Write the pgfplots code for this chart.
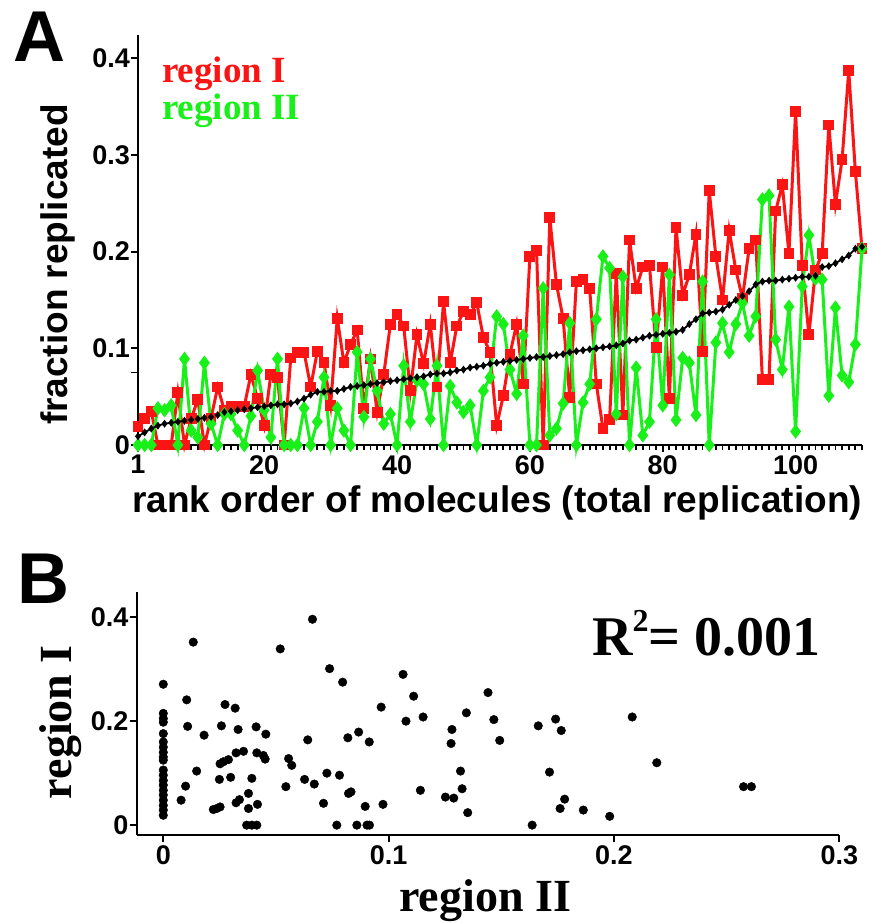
\documentclass[border=0pt]{standalone}
\usepackage{fontspec}
\setmainfont{Liberation Serif}
\setsansfont{Liberation Sans}
\usepackage{pgfplots}
\usepackage{pgfplotstable}
\pgfplotsset{compat=1.18}

\definecolor{regred}{RGB}{250,20,20}
\definecolor{reggreen}{RGB}{25,240,25}

% panel A: fraction replicated per molecule, ranked by total replication
\pgfplotstableread{
n   red    green  total
1   0.019  0      0.009
2   0.027  0      0.013
3   0.035  0      0.017
4   0      0.038  0.020
5   0      0.036  0.022
6   0      0.041  0.023
7   0.054  0      0.024
8   0      0.089  0.025
9   0.027  0.015  0.026
10  0.047  0.008  0.027
11  0      0.085  0.028
12  0.028  0.022  0.029
13  0.060  0      0.031
14  0.036  0.032  0.034
15  0.040  0.032  0.035
16  0.040  0.015  0.036
17  0.040  0      0.037
18  0.073  0.030  0.038
19  0.048  0.077  0.039
20  0.020  0.036  0.040
21  0.073  0.008  0.041
22  0.070  0.089  0.042
23  0      0      0.042
24  0.090  0      0.043
25  0.096  0      0.045
26  0.096  0.038  0.048
27  0.060  0      0.052
28  0.097  0.024  0.055
29  0.085  0.070  0.055
30  0.041  0      0.056
31  0.131  0.038  0.056
32  0.085  0.015  0.058
33  0.104  0      0.060
34  0.119  0.096  0.061
35  0.038  0.029  0.062
36  0.089  0.089  0.063
37  0.034  0.056  0.064
38  0.073  0.022  0.065
39  0.125  0.032  0.066
40  0.135  0      0.067
41  0.123  0.082  0.068
42  0.056  0.024  0.069
43  0.114  0.067  0.070
44  0.084  0.063  0.071
45  0.125  0.027  0.073
46  0.060  0.082  0.074
47  0.148  0      0.074
48  0.085  0.061  0.075
49  0.123  0.044  0.077
50  0.138  0.034  0.078
51  0.135  0.041  0.080
52  0.147  0      0.081
53  0.111  0.056  0.082
54  0.096  0.070  0.084
55  0.020  0.133  0.085
56  0.051  0.125  0.086
57  0.094  0.078  0.087
58  0.125  0.053  0.088
59  0.063  0.113  0.089
60  0.195  0      0.090
61  0.201  0      0.091
62  0      0.162  0.091
63  0.235  0.010  0.092
64  0.166  0.017  0.093
65  0.131  0.043  0.094
66  0.049  0.126  0.096
67  0.169  0      0.097
68  0.171  0.044  0.098
69  0.162  0.063  0.099
70  0.063  0.130  0.100
71  0.017  0.195  0.101
72  0.026  0.183  0.102
73  0.177  0.032  0.103
74  0.031  0.174  0.105
75  0.212  0      0.108
76  0.162  0.080  0.109
77  0.184  0.010  0.111
78  0.186  0.024  0.113
79  0.101  0.130  0.114
80  0.184  0.041  0.115
81  0.048  0.176  0.116
82  0.225  0.026  0.117
83  0.155  0.090  0.119
84  0.176  0.085  0.125
85  0.218  0.031  0.130
86  0.097  0.169  0.136
87  0.263  0      0.137
88  0.195  0.106  0.138
89  0.150  0.126  0.140
90  0.222  0.096  0.145
91  0.181  0.125  0.150
92  0.152  0.147  0.154
93  0.203  0.113  0.159
94  0.212  0.133  0.166
95  0.068  0.254  0.169
96  0.068  0.258  0.170
97  0.242  0.109  0.170
98  0.269  0.078  0.171
99  0.198  0.143  0.172
100 0.345  0.014  0.173
101 0.186  0.164  0.174
102 0.114  0.217  0.174
103 0.181  0.172  0.175
104 0.198  0.171  0.184
105 0.331  0.051  0.185
106 0.249  0.142  0.188
107 0.295  0.072  0.192
108 0.387  0.065  0.196
109 0.283  0.104  0.203
110 0.203  0.203  0.205
}\rankdata

% panel B: region I against region II
\pgfplotstableread{
x       y
0       0.271
0       0.215
0       0.205
0       0.198
0       0.176
0       0.160
0       0.150
0       0.140
0       0.131
0       0.125
0       0.106
0       0.096
0       0.086
0       0.077
0       0.067
0       0.058
0       0.048
0       0.038
0       0.029
0       0.019
0.0133  0.352
0.0104  0.241
0.0108  0.190
0.0181  0.173
0.0148  0.104
0.0099  0.075
0.0079  0.048
0.0274  0.232
0.0319  0.225
0.0258  0.191
0.0332  0.184
0.0412  0.189
0.0455  0.175
0.0252  0.118
0.0267  0.122
0.0289  0.126
0.0323  0.139
0.0356  0.142
0.0415  0.139
0.0444  0.134
0.0452  0.127
0.0249  0.088
0.0299  0.092
0.0393  0.090
0.0378  0.061
0.0323  0.043
0.0338  0.049
0.0378  0.032
0.0418  0.040
0.0222  0.030
0.0237  0.032
0.0252  0.035
0.0370  0
0.0393  0
0.0415  0
0.0519  0.339
0.0662  0.396
0.0738  0.301
0.0796  0.275
0.0641  0.164
0.0556  0.128
0.0570  0.115
0.0544  0.074
0.0627  0.088
0.0670  0.079
0.0726  0.100
0.0782  0.096
0.0711  0.042
0.0819  0.168
0.0867  0.179
0.0914  0.160
0.0822  0.061
0.0833  0.064
0.0896  0.036
0.0770  0
0.0859  0
0.0904  0
0.0915  0
0.0967  0.227
0.0975  0.040
0.1064  0.290
0.1111  0.248
0.1077  0.200
0.1153  0.208
0.1141  0.067
0.1252  0.054
0.1289  0.052
0.1326  0.070
0.1319  0.104
0.1277  0.157
0.1281  0.184
0.1345  0.216
0.1351  0.024
0.1441  0.255
0.1467  0.203
0.1493  0.163
0.1637  0
0.1664  0.191
0.1714  0.102
0.1741  0.204
0.1766  0.182
0.1781  0.050
0.1761  0.032
0.1864  0.029
0.1981  0.017
0.2081  0.208
0.2190  0.120
0.2575  0.074
0.2610  0.074
}\scatterdata

\newcommand\tickfont{\sffamily\bfseries\fontsize{27}{29}\selectfont}

\pgfplotsset{
  figaxis/.style={
    scale only axis,
    axis lines=left,
    axis line style={-, line width=2.2pt},
    tick align=outside,
    tick style={black, line width=1.8pt},
    major tick length=7pt,
    minor tick length=5pt,
    tick label style={font=\tickfont},
    clip=false,
  },
}

\begin{document}
\begin{tikzpicture}
\useasboundingbox (0,0) rectangle (872pt,-923pt);

\begin{axis}[figaxis,
  at={(138pt,-445pt)}, anchor=south west,
  width=724pt, height=410pt,
  xmin=1, xmax=110, ymin=0, ymax=0.424,
  xtick={1,20,40,60,80,100},
  xticklabels={1,20,40,60,80,100},
  minor xtick={1,2,...,110},
  ytick={0,0.1,0.2,0.3,0.4},
  yticklabels={0,0.1,0.2,0.3,0.4},
  extra y ticks={0.075}, extra y tick labels={},
  xticklabel style={inner ysep=3pt},
  yticklabel style={inner xsep=1pt},
  xlabel={rank order of molecules (total replication)},
  ylabel={fraction replicated},
  label style={font=\sffamily\bfseries\fontsize{37}{40}\selectfont},
  xlabel style={at={(axis description cs:0.496,-0.141)}, anchor=center},
  ylabel style={at={(axis description cs:-0.11,0.44)}, anchor=center},
]
\addplot[regred, line width=3pt, mark=square*, mark size=3.9pt,
  mark options={solid}] table[x=n, y=red] {\rankdata};
\addplot[reggreen, line width=3pt, mark=diamond*, mark size=4.8pt,
  mark options={solid}] table[x=n, y=green] {\rankdata};
\addplot[black, line width=1.8pt, mark=diamond*, mark size=2.5pt]
  table[x=n, y=total] {\rankdata};
\end{axis}

\begin{axis}[figaxis,
  at={(136.7pt,-835pt)}, anchor=south west,
  width=702.6pt, height=243.3pt,
  xmin=-0.0118, xmax=0.3, ymin=-0.019, ymax=0.449,
  xtick={0,0.1,0.2,0.3},
  xticklabels={0,0.1,0.2,0.3},
  ytick={0,0.2,0.4},
  yticklabels={0,0.2,0.4},
  xticklabel style={inner ysep=3pt},
  yticklabel style={inner xsep=1pt},
  xlabel={region II},
  ylabel={region I},
  label style={font=\rmfamily\bfseries\fontsize{46}{48}\selectfont},
  xlabel style={at={(axis description cs:0.496,-0.270)}, anchor=center},
  ylabel style={at={(axis description cs:-0.109,0.464)}, anchor=center},
]
\addplot[only marks, mark=*, mark size=4.3pt, black] table[x=x, y=y] {\scatterdata};
\end{axis}

\node[anchor=base west, inner sep=0pt, font=\sffamily\bfseries\fontsize{72}{72}\selectfont]
  at (13pt,-62pt) {A};
\node[anchor=base west, inner sep=0pt, font=\sffamily\bfseries\fontsize{72}{72}\selectfont]
  at (17pt,-603pt) {B};
\node[anchor=base west, inner sep=0pt, text=regred, font=\rmfamily\bfseries\fontsize{37}{37}\selectfont]
  at (162pt,-83pt) {region I};
\node[anchor=base west, inner sep=0pt, text=reggreen, font=\rmfamily\bfseries\fontsize{37}{37}\selectfont]
  at (162pt,-120pt) {region II};
\node[anchor=base west, inner sep=0pt, font=\rmfamily\bfseries\fontsize{56}{56}\selectfont]
  at (592pt,-655pt) {R\raisebox{0.42em}{\fontsize{32}{32}\selectfont 2}= 0.001};
\end{tikzpicture}
\end{document}
